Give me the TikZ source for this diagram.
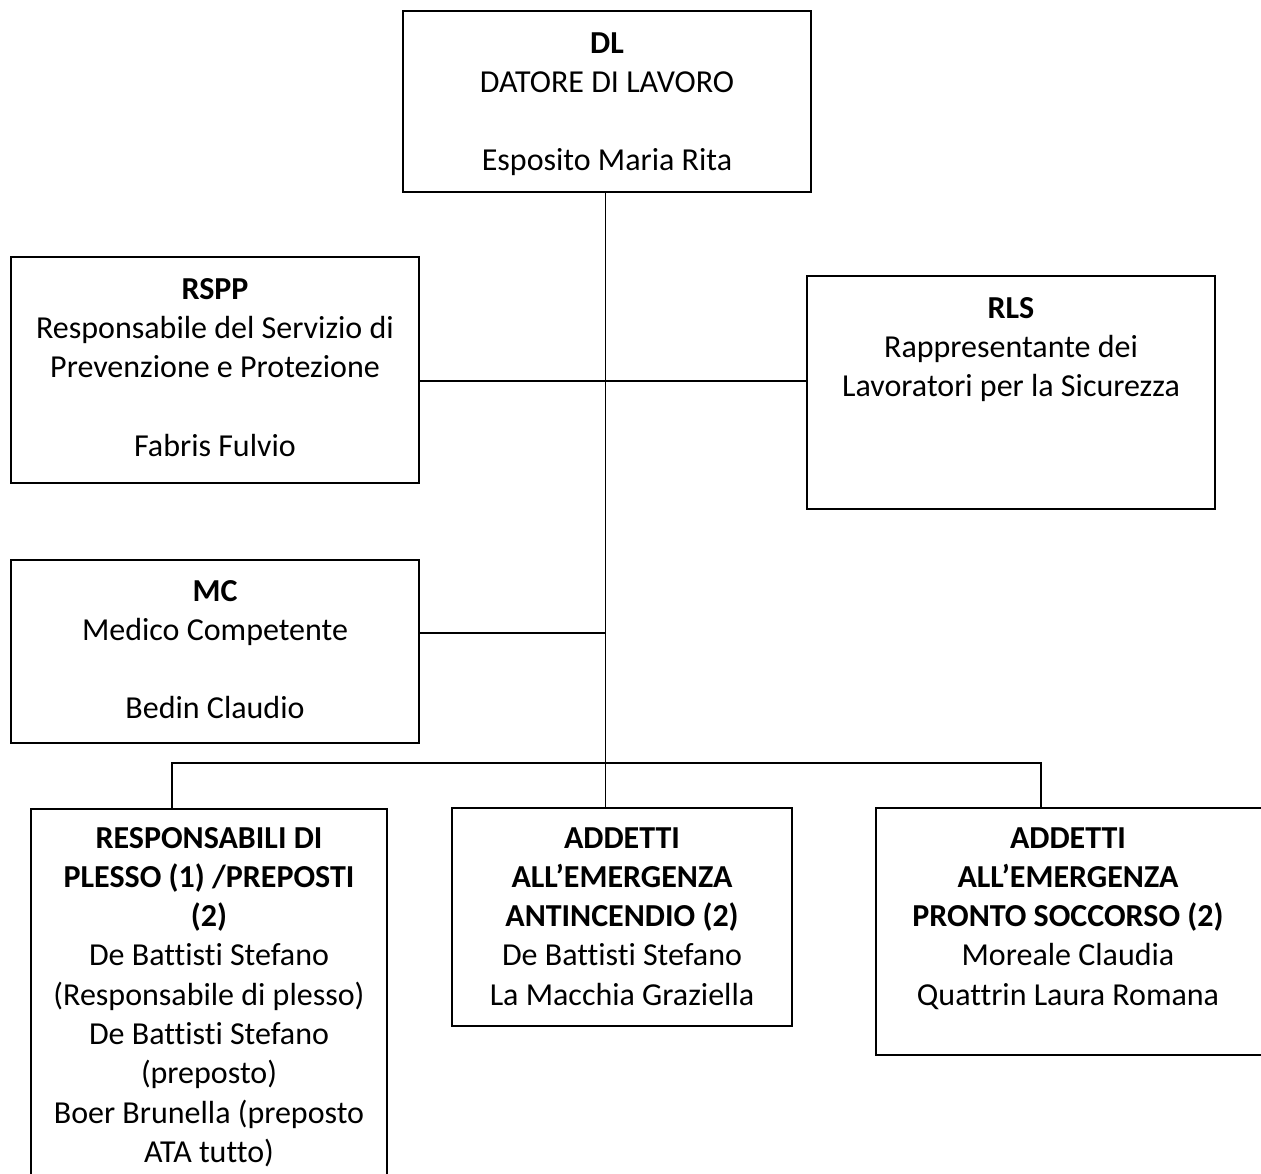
\documentclass[tikz,border=0pt]{standalone}
\usepackage{fontspec}
\setmainfont{Carlito}[Ligatures=NoCommon]
\newcommand{\fstrut}{\vrule height 25pt depth 0pt width 0pt}
\begin{document}
\begin{tikzpicture}[x=1pt,y=-1pt,
  box/.style={draw=black, line width=1.5pt, rectangle, inner sep=0pt, outer sep=0pt, anchor=north west},
  txt/.style={inner sep=0pt, outer sep=0pt, anchor=north, align=center, font=\fontsize{32}{39.3}\selectfont},
  conn/.style={draw=black, line width=1.5pt}]
\path[use as bounding box] (0,0) rectangle (1261,1173);
\clip (0,0) rectangle (1261,1173);
% boxes
\node[box, minimum width=408pt, minimum height=181pt] (dl) at (403,11) {};
\node[box, minimum width=408pt, minimum height=226pt] (rspp) at (11,257) {};
\node[box, minimum width=408pt, minimum height=233pt] (rls) at (807,276) {};
\node[box, minimum width=408pt, minimum height=183pt] (mc) at (11,560) {};
\node[box, minimum width=356pt, minimum height=400pt] (lft) at (31,809) {};
\node[box, minimum width=340pt, minimum height=218pt] (mid) at (452,808) {};
\node[box, minimum width=390pt, minimum height=247pt] (rgt) at (876,808) {};
% texts
\node[txt] (dlt) at (607,28) {\fstrut\textbf{DL}\\DATORE DI LAVORO\\[39.3pt]Esposito Maria Rita};
\node[txt] (rsppt) at (215,274) {\fstrut\textbf{RSPP}\\Responsabile del Servizio di\\Prevenzione e Protezione\\[39.3pt]Fabris Fulvio};
\node[txt] (rlst) at (1011,293) {\fstrut\textbf{RLS}\\Rappresentante dei\\Lavoratori per la Sicurezza};
\node[txt] (mct) at (215,576) {\fstrut\textbf{MC}\\Medico Competente\\[39.3pt]Bedin Claudio};
\node[txt] (lftt) at (209,823) {\fstrut\textbf{RESPONSABILI DI}\\\textbf{PLESSO (1) /PREPOSTI}\\\textbf{(2)}\\De Battisti Stefano\\(Responsabile di plesso)\\De Battisti Stefano\\(preposto)\\Boer Brunella (preposto\\ATA tutto)};
\node[txt] (midt) at (622,823) {\fstrut\textbf{ADDETTI}\\\textbf{ALL’EMERGENZA}\\\textbf{ANTINCENDIO (2)}\\De Battisti Stefano\\La Macchia Graziella};
\node[txt] (rgtt) at (1068,823) {\fstrut\textbf{ADDETTI}\\\textbf{ALL’EMERGENZA}\\\textbf{PRONTO SOCCORSO (2)}\\Moreale Claudia\\Quattrin Laura Romana};
% connectors
\coordinate (trunk) at ([xshift=-1.5pt]dl.south);
\draw[conn] (trunk) -- (trunk |- mid.north);
\draw[conn] ([yshift=-11pt]rspp.east) coordinate (j1) -- (rls.west |- j1);
\draw[conn] ([yshift=18.5pt]mc.east) coordinate (j2) -- (trunk |- j2);
\coordinate (bl) at (172,763);
\coordinate (br) at (1041,763);
\draw[conn] (bl |- lft.north) -- (bl) -- (br) -- (br |- rgt.north);
\end{tikzpicture}
\end{document}
